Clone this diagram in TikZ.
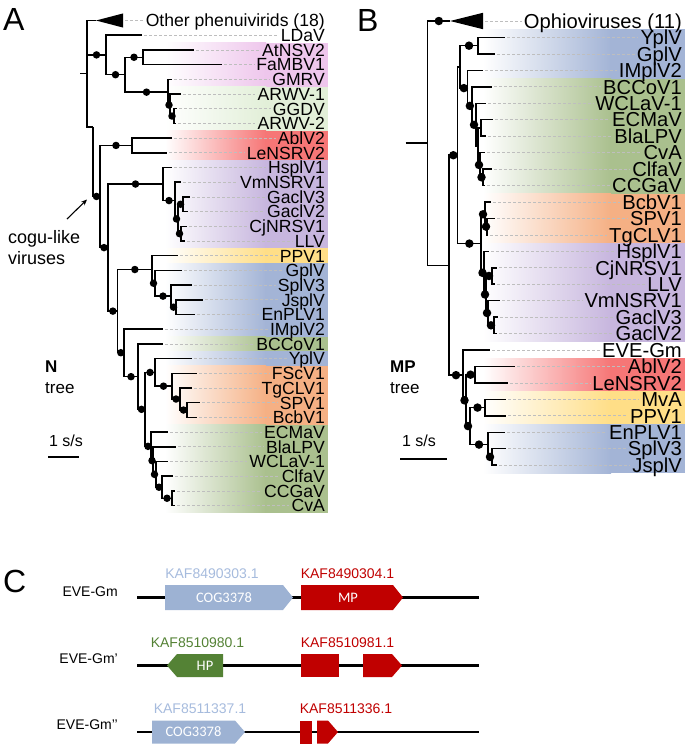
\documentclass[tikz,border=0pt]{standalone}
\usepackage{fontspec}
\setmainfont{Liberation Sans}
\newfontfamily\genefont{Carlito}
\usepackage{xcolor}
\usetikzlibrary{arrows.meta}

\definecolor{bandPink}{RGB}{238,198,236}
\definecolor{bandPale}{RGB}{226,239,216}
\definecolor{bandRed}{RGB}{246,118,118}
\definecolor{bandPurple}{RGB}{199,182,222}
\definecolor{bandYellow}{RGB}{255,222,135}
\definecolor{bandBlue}{RGB}{163,180,214}
\definecolor{bandGreen}{RGB}{170,192,142}
\definecolor{bandOrange}{RGB}{245,176,132}
\definecolor{geneBlue}{RGB}{157,178,211}
\definecolor{labBlue}{RGB}{166,187,221}
\definecolor{geneRed}{RGB}{192,0,0}
\definecolor{geneGreen}{RGB}{84,130,53}
\definecolor{leadGray}{RGB}{190,190,190}

\begin{document}
\begin{tikzpicture}[x=1pt, y=-1pt,
    branch/.style={line width=1.5pt},
    dotA/.style={circle, fill=black, inner sep=0pt, minimum size=7.5pt},
    dotB/.style={circle, fill=black, inner sep=0pt, minimum size=8.5pt},
    leader/.style={draw=leadGray, dash pattern=on 2.5pt off 2.5pt, line width=0.7pt, shorten <=2pt, shorten >=2pt},
    leafA/.style={anchor=east, inner sep=0pt, font=\fontsize{17.6}{17.6}\selectfont, text height=12.6pt, text depth=0pt},
    leafB/.style={anchor=east, inner sep=0pt, font=\fontsize{20.2}{20.2}\selectfont, text height=14.5pt, text depth=0pt},
    panel/.style={anchor=north west, inner sep=0pt, font=\fontsize{32}{32}\selectfont, text height=23pt, text depth=0pt},
    side/.style={inner sep=0pt, font=\fontsize{17}{17}\selectfont},
    gene/.style={inner sep=0pt, font=\fontsize{14}{14}\selectfont, text height=10pt, text depth=0pt},
    ingene/.style={inner sep=0pt, text=white, font=\genefont\fontsize{14.5}{14.5}\selectfont, text height=9pt, text depth=0pt}
]
\useasboundingbox (0,0) rectangle (685,747);

% panel letters
\node[panel] (pA) at (3,7) {A};
\node[panel] (pB) at (357,8) {B};
\node[panel] (pC) at (3,569) {C};

% ---------------- A: N tree ----------------
\begin{scope}[yshift=-20.5pt, y=-14.7pt]
\foreach \f/\t/\c in {2/4/bandPink, 5/7/bandPale, 8/9/bandRed, 10/15/bandPurple,
    16/16/bandYellow, 17/21/bandBlue, 22/22/bandGreen, 23/23/bandBlue,
    24/27/bandOrange, 28/33/bandGreen}{
  \shade[left color=white, right color=\c] (165,{\f-0.5}) rectangle (266,{\t+0.5});
  \fill[\c] (265,{\f-0.5}) rectangle (328,{\t+0.5});
}
% leaves
\foreach \nm/\lab/\tx [count=\i] in {LDaV/LDaV/142, AtNSV2/AtNSV2/194, FaMBV1/FaMBV1/222,
    GMRV/GMRV/172, ARWVa/ARWV-1/181, GGDV/GGDV/177, ARWVb/ARWV-2/176, AblV2/AblV2/172,
    LeNSRV2/LeNSRV2/167, HsplV1/HsplV1/172, VmNSRV1/VmNSRV1/181, GaclV3/GaclV3/190,
    GaclV2/GaclV2/188, CjNRSV1/CjNRSV1/187, LLV/LLV/185, PPV1/PPV1/178, GplV/GplV/182,
    SplV3/SplV3/192, JsplV/JsplV/203, EnPLV1/EnPLV1/195, IMplV2/IMplV2/163,
    BCCoV1/BCCoV1/163, YplV/YplV/192, FScV1/FScV1/197, TgCLV1/TgCLV1/192, SPV1/SPV1/200,
    BcbV1/BcbV1/197, ECMaV/ECMaV/168, BlaLPV/BlaLPV/176, WCLaV/WCLaV-1/168,
    ClfaV/ClfaV/173, CCGaV/CCGaV/175, CvA/CvA/175}{
  \coordinate (a\nm) at (\tx,\i);
  \node[leafA] (la\nm) at (325,\i) {\lab};
  \draw[leader] (a\nm) -- (la\nm.west);
}
\node[leafA] (laOther) at (325,0) {Other phenuivirids (18)};
\coordinate (aTri) at (96,0);
\coordinate (aTriEnd) at (123,0);
\draw[leader] (aTriEnd) -- (laOther.west);
\fill (aTri) -- (123,-0.48) -- (123,0.48) -- cycle;

% internal nodes
\foreach \nm/\xx/\yy in {Root/80/3.62, R/87/3.62, N1/106/2.34, N2/125/3.6875, N3/143/2.5,
    N4/168/4.875, N5/170/5.75, N6/174/6.5, J/93/7.24, C1/100/11.97, AB/132/8.5,
    C2/108/15.45, P1/163/11.125, P2/175/12.25, P3/178/13.5, Q1/183/12.5, Q2/181/14.5,
    C3/117.7/19.77, G1/152/16.94, G2/155/17.875, G3/171/18.75, G4/176/19.5,
    C4/124/22.6, C5/138/24.23, C6/145/26.45, O1/155/23.94, O2/172/24.875,
    O3/180/25.75, O4/187/26.5, E1/151/28.97, E2/153/29.94, E3/156/30.875,
    E4/162/31.75, E5/172/32.5}
  \coordinate (a\nm) at (\xx,\yy);

\draw[branch] (aRoot) -- (aR);
\foreach \p/\c in {R/Tri, R/J, N1/LDaV, N3/AtNSV2, N3/FaMBV1, N4/GMRV, N5/ARWVa,
    N6/GGDV, N6/ARWVb, AB/AblV2, AB/LeNSRV2, P1/HsplV1, P2/VmNSRV1, Q1/GaclV3,
    Q1/GaclV2, Q2/CjNRSV1, Q2/LLV, G1/PPV1, G2/GplV, G3/SplV3, G4/JsplV, G4/EnPLV1,
    C4/IMplV2, C5/BCCoV1, O1/YplV, O2/FScV1, O3/TgCLV1, O4/SPV1, O4/BcbV1,
    E1/ECMaV, E2/BlaLPV, E3/WCLaV, E4/ClfaV, E5/CCGaV, E5/CvA}
  \draw[branch] (a\p) |- (a\c);
\foreach \p/\c in {R/N1, N1/N2, N2/N3, N2/N4, N4/N5, N5/N6, J/C1, C1/AB, C1/C2,
    C2/P1, C2/C3, P1/P2, P2/P3, P3/Q1, P3/Q2, C3/G1, G1/G2, G2/G3, G3/G4, C3/C4,
    C4/C5, C5/C6, C6/O1, C6/E1, O1/O2, O2/O3, O3/O4, E1/E2, E2/E3, E3/E4, E4/E5}
  \draw[branch] (a\p) |- (a\c) node[pos=0.75, dotA] (ad\c) {};
\end{scope}

% notes for A
\node[anchor=base west, inner sep=0pt, font=\fontsize{18}{18}\selectfont] (cogu) at (8,243) {cogu-like};
\node[anchor=base west, inner sep=0pt, font=\fontsize{18}{18}\selectfont] (coguB) at (8,264) {viruses};
\coordinate (arrS) at (67,219);
\coordinate (arrE) at (87,199.5);
\draw[-{Stealth[length=6pt, width=5pt]}, line width=1.1pt] (arrS) -- (arrE);
\node[side, anchor=base west] (aTname) at (45,372) {\bfseries N};
\node[side, anchor=base west] (aTtree) at (45,393) {tree};
\node[side, anchor=base, font=\fontsize{16}{16}\selectfont] (aScale) at (66,446) {1 s/s};
\draw[line width=1.6pt] (48,457) -- (79,457);

% ---------------- B: MP tree ----------------
\begin{scope}[yshift=-21pt, y=-16.45pt]
\foreach \f/\t/\c in {1/3/bandBlue, 4/10/bandGreen, 11/13/bandOrange, 14/19/bandPurple,
    21/22/bandRed, 23/24/bandYellow, 25/27/bandBlue}{
  \shade[left color=white, right color=\c] (483,{\f-0.5}) rectangle (611,{\t+0.5});
  \fill[\c] (610,{\f-0.5}) rectangle (685,{\t+0.5});
}
\foreach \nm/\lab/\tx [count=\i] in {YplV/YplV/505, GplV/GplV/495, IMplV2/IMplV2/483,
    BCCoV1/BCCoV1/492, WCLaV/WCLaV-1/486, ECMaV/ECMaV/493, BlaLPV/BlaLPV/486,
    CvA/CvA/485, ClfaV/ClfaV/492, CCGaV/CCGaV/485, BcbV1/BcbV1/491, SPV1/SPV1/495,
    TgCLV1/TgCLV1/488, HsplV1/HsplV1/489, CjNRSV1/CjNRSV1/497, LLV/LLV/495,
    VmNSRV1/VmNSRV1/500, GaclV3/GaclV3/498, GaclV2/GaclV2/497, EVEGm/EVE-Gm/490,
    AblV2/AblV2/515, LeNSRV2/LeNSRV2/508, MvA/MvA/506, PPV1/PPV1/506,
    EnPLV1/EnPLV1/505, SplV3/SplV3/506, JsplV/JsplV/497}{
  \coordinate (b\nm) at (\tx,\i);
  \node[leafB] (lb\nm) at (682,\i) {\lab};
  \draw[leader] (b\nm) -- (lb\nm.west);
}
\node[leafB] (lbOther) at (682,0) {Ophioviruses (11)};
\coordinate (bTri) at (450,0);
\coordinate (bTriEnd) at (483,0);
\draw[leader] (bTriEnd) -- (lbOther.west);
\fill (bTri) -- (483,-0.5) -- (483,0.5) -- cycle;

\foreach \nm/\xx/\yy in {Root/405.7/7.42, R/427.7/7.42, M/449/14.85, U/457.7/8.16,
    U1/460/2.79, YG/478/1.5, V/467.7/4.08, Gr/472/5.16, Gr2/476/6.31, Gr3/478/7.625,
    EB/481/6.5, Gr4/480/8.75, Gr5/483/9.5, U2/481/13.53, O/485/11.75, Op/487/12.5,
    P/484/15.31, P2/486/16.625, CL/492/15.5, VG/488/17.75, GG/494/18.5,
    L/463/21.53, L2/466/23.06, AB/475/21.5, L3/470/24.625, MP/485/23.5,
    ESJ/488/25.75, SJ/492/26.5}
  \coordinate (b\nm) at (\xx,\yy);

\draw[branch] (bRoot) -- (bR);
\foreach \p/\c in {R/M, U/U1, Gr2/Gr3, Gr3/EB, YG/YplV, YG/GplV, V/IMplV2, Gr/BCCoV1,
    Gr2/WCLaV, EB/ECMaV, EB/BlaLPV, Gr4/CvA, Gr5/ClfaV, Gr5/CCGaV, O/BcbV1, Op/SPV1,
    Op/TgCLV1, P/HsplV1, CL/CjNRSV1, CL/LLV, VG/VmNSRV1, GG/GaclV3, GG/GaclV2,
    L/EVEGm, AB/AblV2, AB/LeNSRV2, MP/MvA, MP/PPV1, ESJ/EnPLV1, SJ/SplV3, SJ/JsplV}
  \draw[branch] (b\p) |- (b\c);
\foreach \p/\c in {R/Tri, M/U, U1/YG, U1/V, V/Gr, Gr/Gr2, Gr3/Gr4, Gr4/Gr5, U/U2,
    U2/O, O/Op, U2/P, P/P2, P2/CL, P2/VG, VG/GG, M/L, L/L2, L2/AB, L2/L3, L3/MP,
    L3/ESJ, ESJ/SJ}
  \draw[branch] (b\p) |- (b\c) node[pos=0.75, dotB] (bd\c) {};
\end{scope}

\node[side, anchor=base west] (bTname) at (390,372) {\bfseries MP};
\node[side, anchor=base west] (bTtree) at (390,393) {tree};
\node[side, anchor=base, font=\fontsize{16}{16}\selectfont] (bScale) at (419,446) {1 s/s};
\draw[line width=1.6pt] (400,459) -- (447,459);

% ---------------- C: EVE loci ----------------
\foreach \yy in {597.5, 665.5, 732}
  \draw[line width=2.6pt] (137,\yy) -- (479,\yy);

% EVE-Gm
\fill[geneBlue] (165,585) -- (283,585) -- (293,597.5) -- (283,610) -- (165,610) -- cycle;
\fill[geneRed] (301,585) -- (393,585) -- (403,597.5) -- (393,610) -- (301,610) -- cycle;
% EVE-Gm'
\fill[geneGreen] (167,665.5) -- (177,654) -- (223,654) -- (223,677) -- (177,677) -- cycle;
\fill[geneRed] (301,654) rectangle (339,677);
\fill[geneRed] (363,654) -- (392,654) -- (402,665.5) -- (392,677) -- (363,677) -- cycle;
% EVE-Gm''
\fill[geneBlue] (152,720.5) -- (235,720.5) -- (245,732) -- (235,743.5) -- (152,743.5) -- cycle;
\fill[geneRed] (300,720.5) rectangle (312,743.5);
\fill[geneRed] (317,720.5) -- (328,720.5) -- (338,732) -- (328,743.5) -- (317,743.5) -- cycle;

\node[gene, anchor=east] (row1) at (118,591.5) {EVE-Gm};
\node[gene, anchor=east] (row2) at (118,658.5) {EVE-Gm’};
\node[gene, anchor=east] (row3) at (118,724) {EVE-Gm’’};

\node[gene, text=labBlue] (kaf1) at (212,573.5) {KAF8490303.1};
\node[gene, text=geneRed] (kaf2) at (347.5,573.5) {KAF8490304.1};
\node[gene, text=geneGreen] (kaf3) at (197.5,642) {KAF8510980.1};
\node[gene, text=geneRed] (kaf4) at (347.5,642) {KAF8510981.1};
\node[gene, text=labBlue] (kaf5) at (200,708) {KAF8511337.1};
\node[gene, text=geneRed] (kaf6) at (346,708) {KAF8511336.1};

\node[ingene] (cog1) at (224,597.5) {COG3378};
\node[ingene] (mp1) at (348,597.5) {MP};
\node[ingene] (hp2) at (205,665.5) {HP};
\node[ingene] (cog3) at (193.5,732) {COG3378};
\end{tikzpicture}
\end{document}
